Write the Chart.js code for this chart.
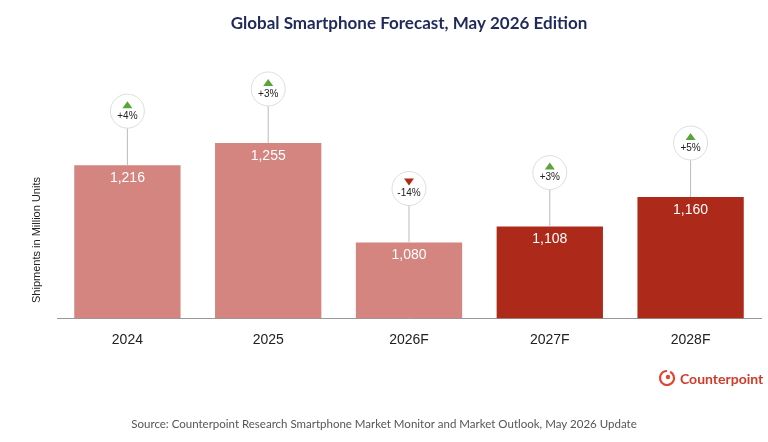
<!DOCTYPE html>
<html><head><meta charset="utf-8">
<script src="https://cdn.jsdelivr.net/npm/chart.js@4/dist/chart.umd.min.js"></script>
<style>body{margin:0;background:#fff}#wrap{width:768px;height:442px;position:relative}</style>
</head><body><div id="wrap"><canvas id="c"></canvas></div>
<script>
const years = ['2024', '2025', '2026F', '2027F', '2028F'];
const shipments = [1216, 1255, 1080, 1108, 1160];
const growth = ['+4%', '+3%', '-14%', '+3%', '+5%'];
const barColors = ['#D4857F', '#D4857F', '#D4857F', '#AD2A1A', '#AD2A1A'];

const extras = {
  id: 'extras',
  afterDatasetsDraw(chart) {
    const ctx = chart.ctx, meta = chart.getDatasetMeta(0);
    ctx.save();
    // value labels
    ctx.fillStyle = '#fff'; ctx.font = '14px Liberation Sans'; ctx.textAlign = 'center'; ctx.textBaseline = 'middle';
    meta.data.forEach((b, i) => {
      ctx.fillText(shipments[i].toLocaleString('en-US'), b.x, b.y + 13);
    });
    // growth bubbles
    meta.data.forEach((b, i) => {
      const cy = b.y - 54;
      ctx.strokeStyle = '#bbb'; ctx.lineWidth = 1;
      ctx.beginPath(); ctx.moveTo(b.x, b.y); ctx.lineTo(b.x, cy + 17); ctx.stroke();
      ctx.fillStyle = '#fff'; ctx.strokeStyle = '#ddd';
      ctx.beginPath(); ctx.arc(b.x, cy, 17, 0, Math.PI * 2); ctx.fill(); ctx.stroke();
      const up = growth[i][0] === '+';
      ctx.fillStyle = up ? '#5BA33B' : '#B02A1A';
      ctx.beginPath();
      if (up) { ctx.moveTo(b.x - 5, cy - 3); ctx.lineTo(b.x + 5, cy - 3); ctx.lineTo(b.x, cy - 10); }
      else { ctx.moveTo(b.x - 5, cy - 10); ctx.lineTo(b.x + 5, cy - 10); ctx.lineTo(b.x, cy - 3); }
      ctx.fill();
      ctx.fillStyle = '#222'; ctx.font = '10px Liberation Sans';
      ctx.fillText(growth[i], b.x, cy + 5);
    });
    // y title
    ctx.translate(37, 240); ctx.rotate(-Math.PI / 2);
    ctx.fillStyle = '#222'; ctx.font = '11px Liberation Sans';
    ctx.fillText('Shipments in Million Units', 0, 0);
    ctx.restore();
    // source + logo
    ctx.save();
    ctx.fillStyle = '#555'; ctx.font = '11.5px Lato'; ctx.textAlign = 'center'; ctx.textBaseline = 'middle';
    ctx.fillText('Source: Counterpoint Research Smartphone Market Monitor and Market Outlook, May 2026 Update', 384, 424);
    ctx.strokeStyle = '#E2452F'; ctx.lineWidth = 2.2;
    ctx.beginPath(); ctx.arc(667, 378, 7, -Math.PI * 0.35, Math.PI * 1.5); ctx.stroke();
    ctx.fillStyle = '#E2452F'; ctx.beginPath(); ctx.arc(668, 377, 2.2, 0, Math.PI * 2); ctx.fill();
    ctx.font = 'bold 14px Lato'; ctx.textAlign = 'left'; ctx.fillStyle = '#D03A28';
    ctx.fillText('Counterpoint', 680, 379);
    ctx.restore();
  }
};

new Chart(document.getElementById('c'), {
  type: 'bar',
  data: { labels: years, datasets: [{ data: shipments, backgroundColor: barColors, categoryPercentage: 1, barPercentage: 0.755 }] },
  options: {
    responsive: true, maintainAspectRatio: false, animation: false,
    layout: { padding: { left: 57, right: 7, top: 0, bottom: 87 } },
    plugins: {
      legend: { display: false }, tooltip: { enabled: false },
      title: { display: true, text: 'Global Smartphone Forecast, May 2026 Edition', color: '#1F2A5A',
        font: { family: 'Lato', size: 17, weight: 'bold' }, padding: { top: 13, bottom: 10 } }
    },
    scales: {
      y: { display: false, min: 947, max: 1430 },
      x: { grid: { display: false }, border: { color: '#999' },
        ticks: { color: '#222', font: { family: 'Liberation Sans', size: 14 }, padding: 6 } }
    }
  },
  plugins: [extras]
});
</script></body></html>
